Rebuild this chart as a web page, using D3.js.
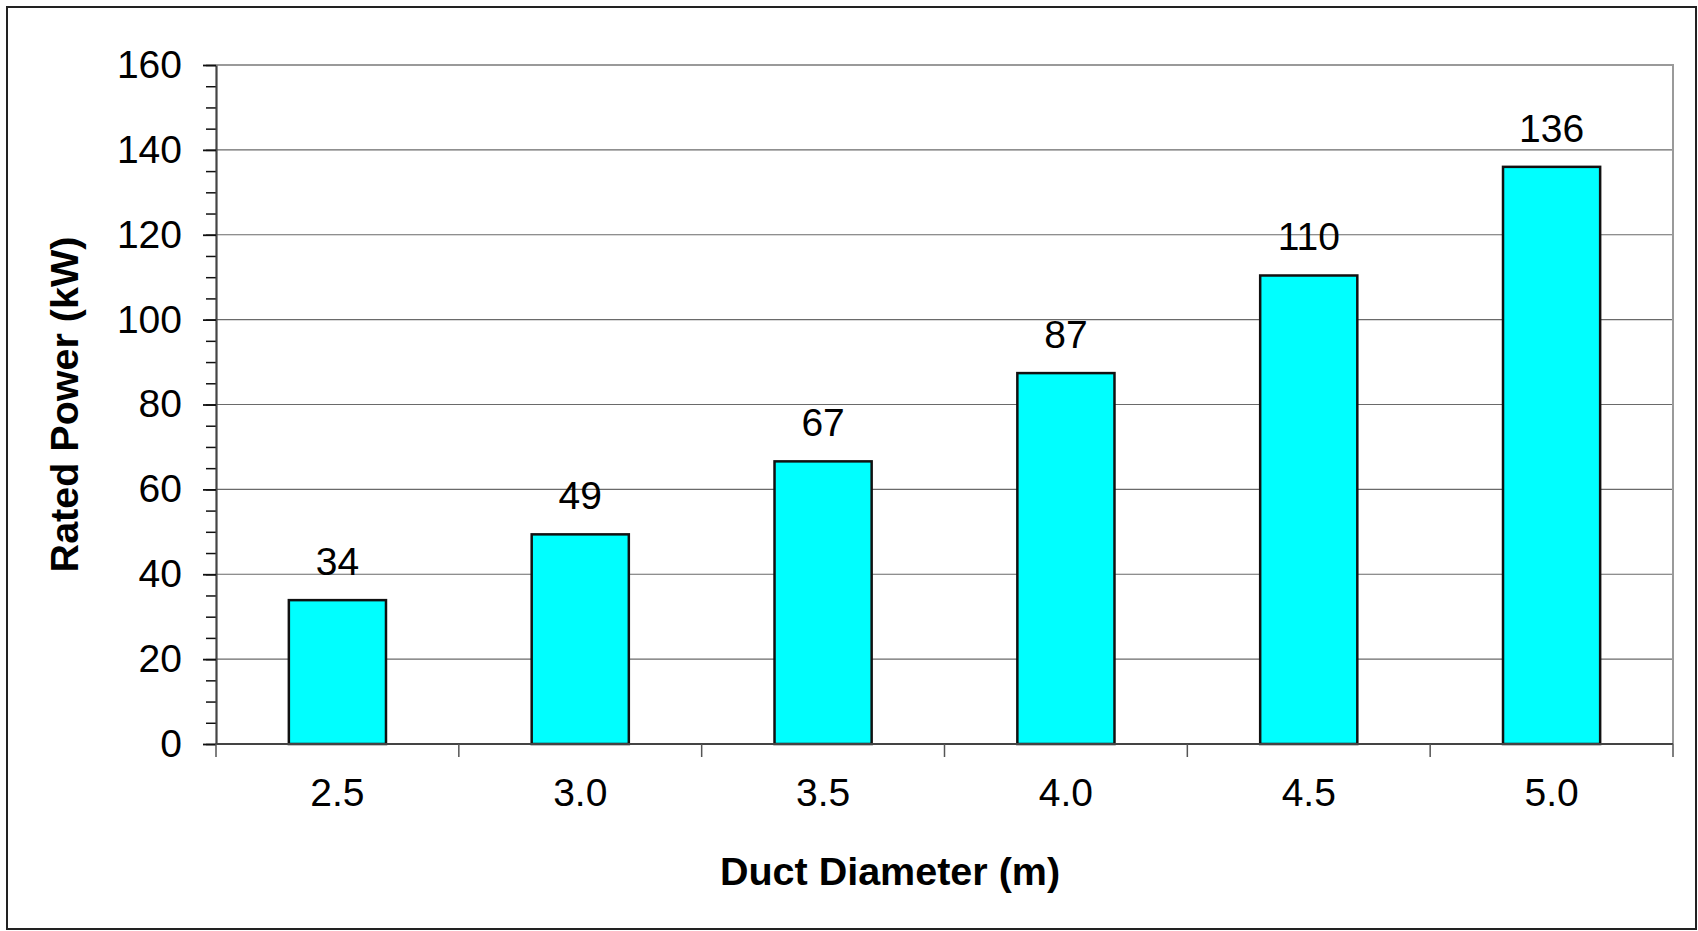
<!DOCTYPE html>
<html>
<head>
<meta charset="utf-8">
<script src="https://cdn.jsdelivr.net/npm/d3@7"></script>
<style>
  html, body { margin: 0; padding: 0; background: #fff; }
  svg { display: block; }
  text { font-family: "Liberation Sans", Arial, sans-serif; fill: #000; }
</style>
</head>
<body>
<div id="chart"></div>
<script>
// chart data
var categories = ["2.5", "3.0", "3.5", "4.0", "4.5", "5.0"];
var ratedPower = [33.9, 49.4, 66.6, 87.4, 110.4, 136.0];
var yTicks = [0, 20, 40, 60, 80, 100, 120, 140, 160];
var yMinorTicks = d3.range(0, 161, 5);

var svgWidth = 1698;
var svgHeight = 931;

// plot area edges in page pixels
var plot = { left: 216, right: 1673, top: 65, bottom: 744 };

var svg = d3.select("#chart")
  .append("svg")
  .attr("width", svgWidth)
  .attr("height", svgHeight);

// outer chart border
svg.append("rect")
  .attr("x", 7)
  .attr("y", 7)
  .attr("width", 1689)
  .attr("height", 922)
  .attr("fill", "#fff")
  .attr("stroke", "#222")
  .attr("stroke-width", 2);

// scales
var xScale = d3.scaleBand()
  .domain(categories)
  .range([plot.left, plot.right])
  .padding(0);

var yScale = d3.scaleLinear()
  .domain([0, 160])
  .range([plot.bottom, plot.top]);

// gridlines
svg.append("g")
  .selectAll("line")
  .data(yTicks.filter(d => d > 0 && d < 160))
  .enter()
  .append("line")
  .attr("x1", plot.left)
  .attr("x2", plot.right)
  .attr("y1", d => yScale(d))
  .attr("y2", d => yScale(d))
  .attr("stroke", "#6a6a6a")
  .attr("stroke-width", 1.2);

// plot area frame (top + right)
svg.append("path")
  .attr("d", `M${plot.left},${yScale(160)}H${plot.right}V${plot.bottom}`)
  .attr("fill", "none")
  .attr("stroke", "#9a9a9a")
  .attr("stroke-width", 2);

// bars
var bw = xScale.bandwidth();
svg.append("g")
  .selectAll("rect")
  .data(ratedPower)
  .enter()
  .append("rect")
  .attr("x", (d, i) => xScale(categories[i]) + bw * 0.3)
  .attr("y", d => yScale(d))
  .attr("width", bw * 0.4)
  .attr("height", d => yScale(0) - yScale(d))
  .attr("fill", "#00ffff")
  .attr("stroke", "#111")
  .attr("stroke-width", 2.5);

// bar value labels
svg.append("g")
  .selectAll("text")
  .data(ratedPower)
  .enter()
  .append("text")
  .attr("x", (d, i) => xScale(categories[i]) + bw / 2)
  .attr("y", d => yScale(d) - 25)
  .attr("text-anchor", "middle")
  .attr("font-size", "39px")
  .text(d => Math.round(d));

// minor y ticks
svg.append("g")
  .attr("transform", `translate(${plot.left},0)`)
  .call(d3.axisLeft(yScale).tickValues(yMinorTicks).tickSize(10).tickFormat(""))
  .call(g => g.select(".domain").remove())
  .call(g => g.selectAll("line").attr("stroke", "#111").attr("stroke-width", 1.5));

// y axis
var leftAxis = d3.axisLeft(yScale)
  .tickValues(yTicks)
  .tickSize(13)
  .tickSizeOuter(0)
  .tickPadding(21);

svg.append("g")
  .attr("transform", `translate(${plot.left},0)`)
  .call(leftAxis)
  .call(g => g.select(".domain").attr("stroke", "#444").attr("stroke-width", 2.2))
  .call(g => g.selectAll("line").attr("stroke", "#111").attr("stroke-width", 1.8))
  .call(g => g.selectAll("text")
    .attr("font-size", "39px")
    .attr("font-family", "'Liberation Sans', Arial, sans-serif")
    .attr("fill", "#000"));

// x axis: ticks sit on category boundaries
var boundaries = categories.map(c => xScale(c)).concat([plot.right]);
svg.append("line")
  .attr("x1", plot.left)
  .attr("x2", plot.right)
  .attr("y1", plot.bottom)
  .attr("y2", plot.bottom)
  .attr("stroke", "#444")
  .attr("stroke-width", 2.2);

svg.append("g")
  .selectAll("line")
  .data(boundaries)
  .enter()
  .append("line")
  .attr("x1", d => d)
  .attr("x2", d => d)
  .attr("y1", plot.bottom)
  .attr("y2", plot.bottom + 13)
  .attr("stroke", "#555")
  .attr("stroke-width", 1.5);

svg.append("g")
  .selectAll("text")
  .data(categories)
  .enter()
  .append("text")
  .attr("x", d => xScale(d) + bw / 2)
  .attr("y", 806)
  .attr("text-anchor", "middle")
  .attr("font-size", "39px")
  .text(d => d);

// axis titles
svg.append("text")
  .attr("transform", `translate(78, ${(plot.top + plot.bottom) / 2}) rotate(-90)`)
  .attr("text-anchor", "middle")
  .attr("font-size", "39.5px")
  .attr("font-weight", "bold")
  .text("Rated Power (kW)");

svg.append("text")
  .attr("x", 890)
  .attr("y", 885)
  .attr("text-anchor", "middle")
  .attr("font-size", "39.5px")
  .attr("font-weight", "bold")
  .text("Duct Diameter (m)");
</script>
</body>
</html>
